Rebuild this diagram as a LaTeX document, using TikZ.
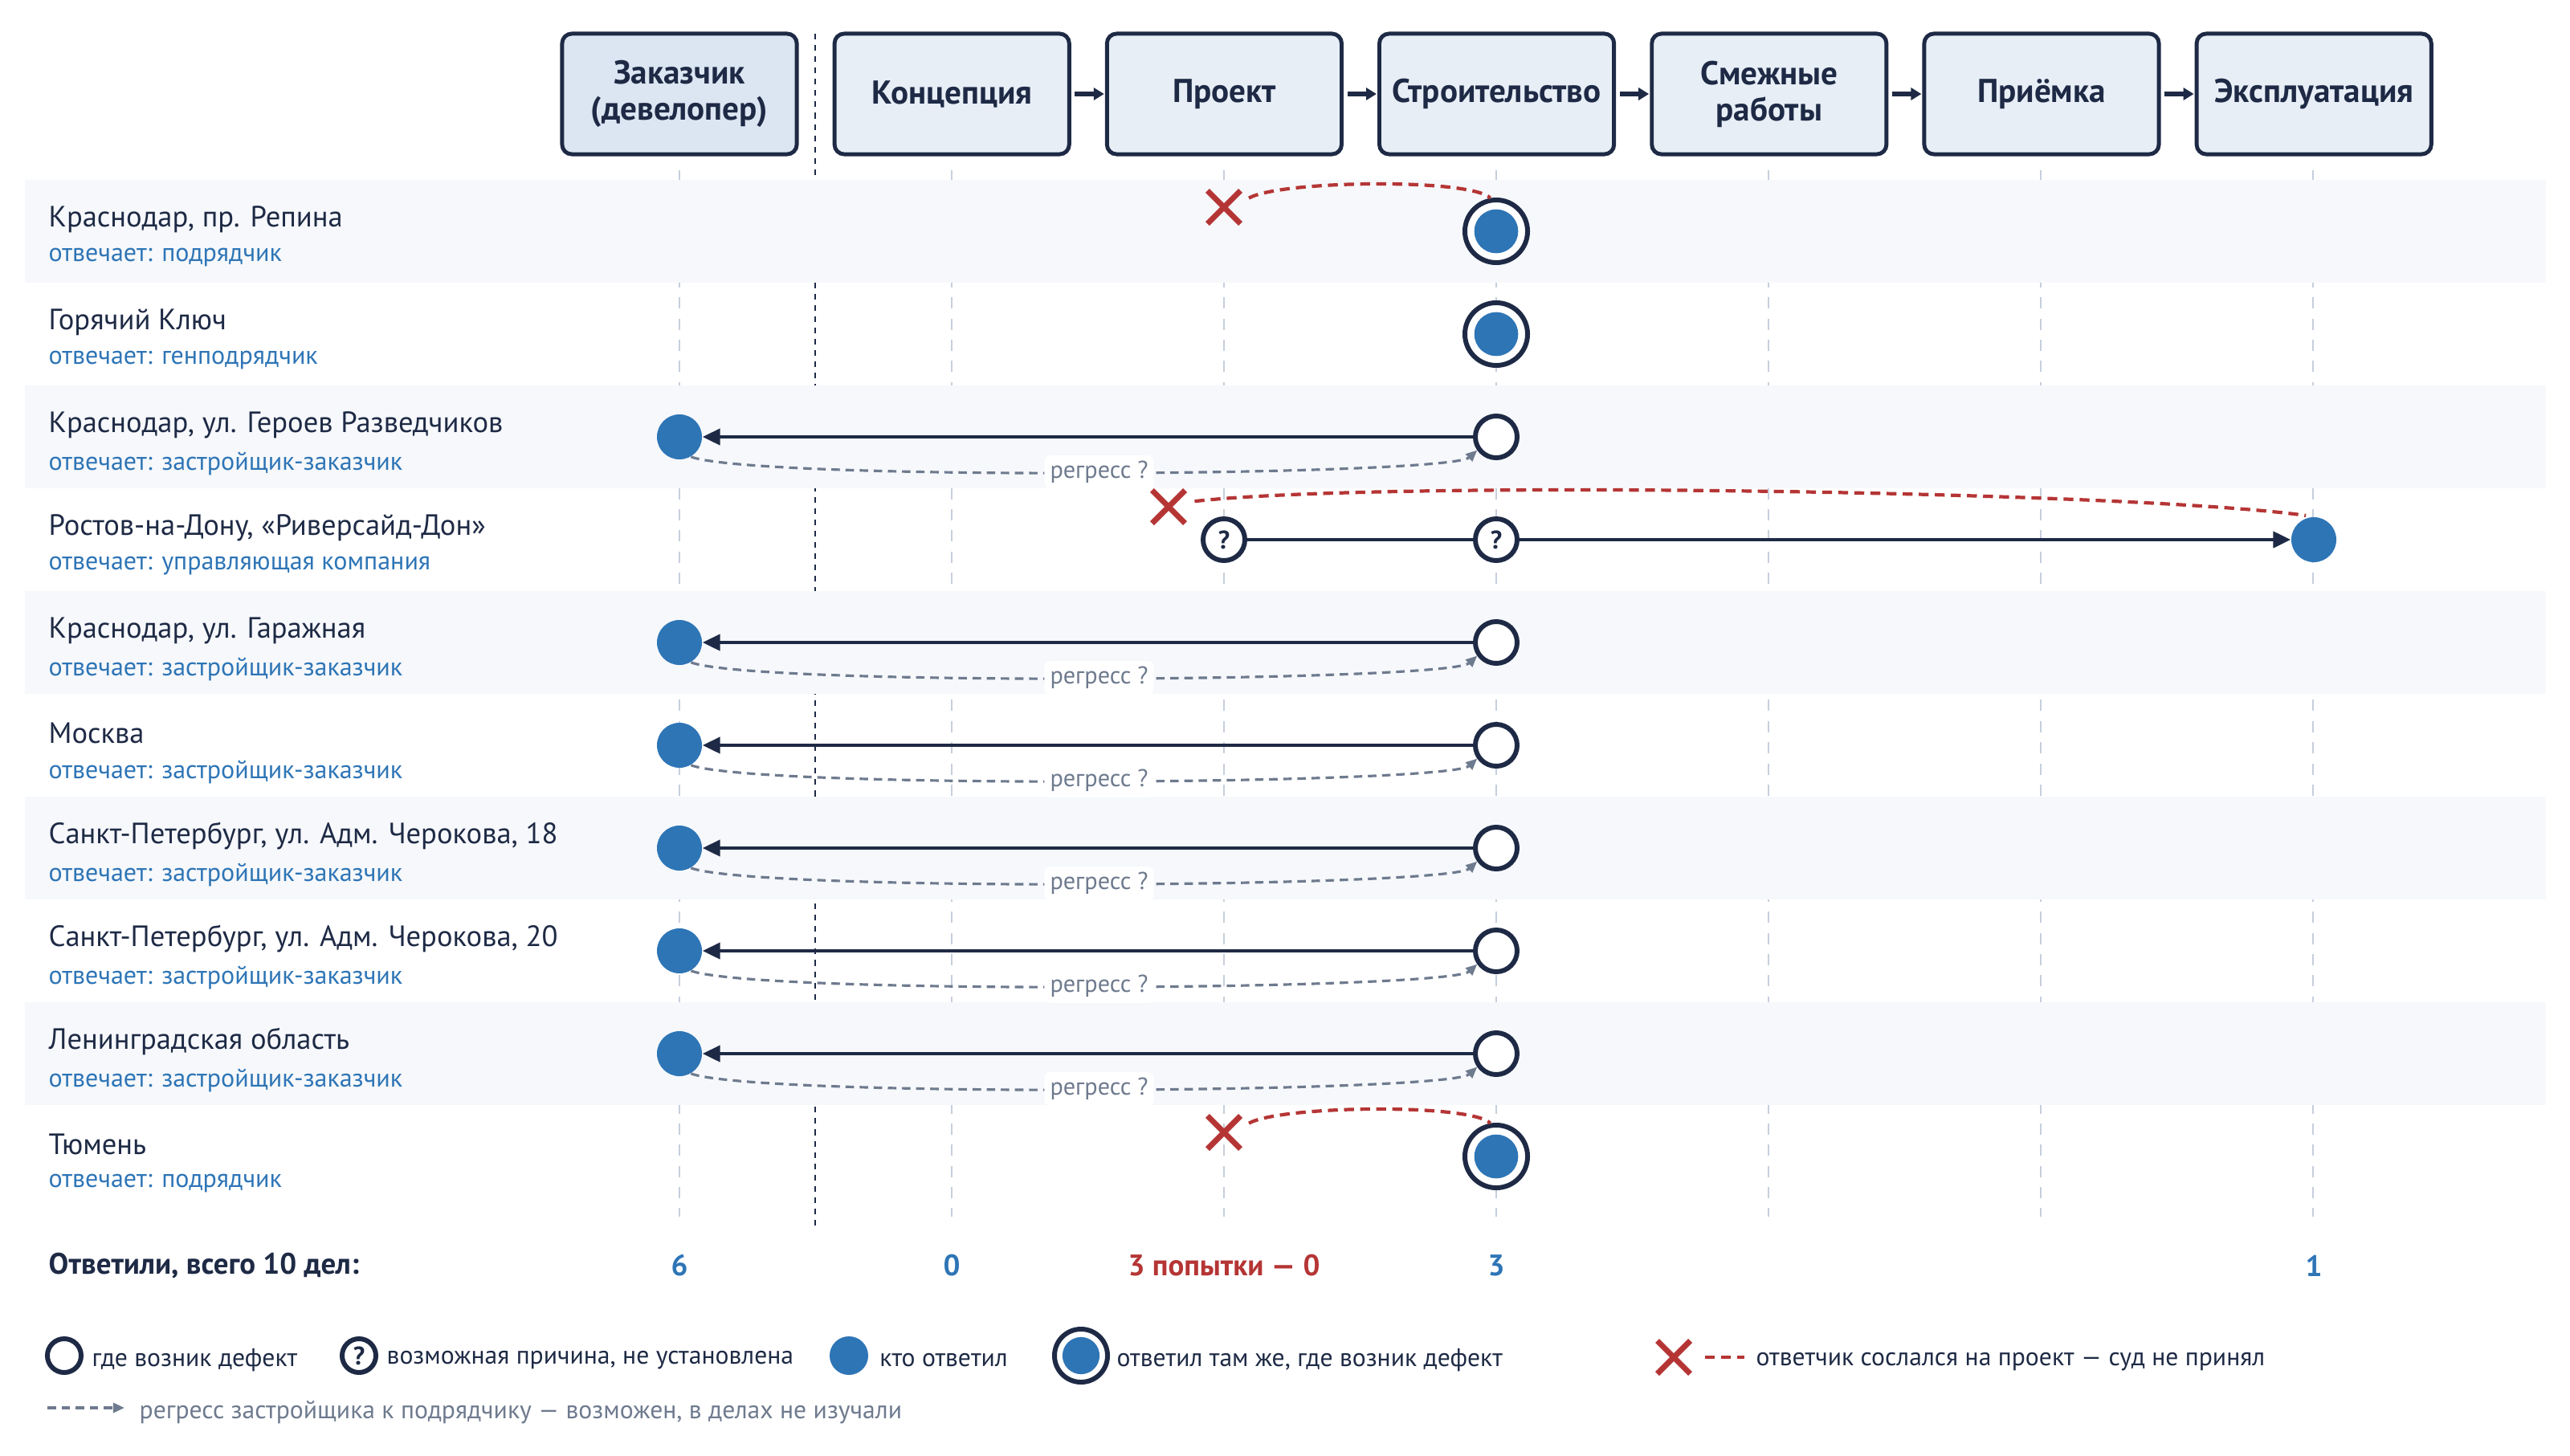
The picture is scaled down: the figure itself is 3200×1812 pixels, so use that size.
\documentclass[tikz,border=0pt]{standalone}
\usepackage{fontspec}
\setmainfont{PT Sans}
\usetikzlibrary{arrows.meta, positioning, shapes.misc}

\definecolor{navy}{HTML}{1E2A45}
\definecolor{ansblue}{HTML}{2E75B6}
\definecolor{refred}{HTML}{B53535}
\definecolor{greytext}{HTML}{6E7A8E}
\definecolor{bandfill}{HTML}{F6F8FB}
\definecolor{boxfill}{HTML}{E7EEF6}
\definecolor{clientfill}{HTML}{DCE6F2}
\definecolor{guidegrey}{HTML}{C6CFDC}

\newcommand{\stagefont}{\bfseries\fontsize{11.7}{12.8}\selectfont}
\newcommand{\casefont}{\fontsize{10.4}{12}\selectfont}
\newcommand{\respfont}{\fontsize{9.1}{11}\selectfont}
\newcommand{\legfont}{\fontsize{9}{11}\selectfont}
\newcommand{\regfont}{\fontsize{8.6}{10}\selectfont}
\newcommand{\totfont}{\bfseries\fontsize{10.5}{12}\selectfont}

\begin{document}
\begin{tikzpicture}[
        x=0.01cm, y=-0.01cm,
        stage/.style={draw=navy, line width=1.4pt, fill=boxfill, rounded corners=0.12cm, minimum width=2.92cm, minimum height=1.5cm, align=center, font=\stagefont, text=navy, inner sep=0, outer sep=0},
        flow/.style={-{Triangle[length=0.13cm, width=0.15cm]}, navy, line width=1.5pt, shorten <=2pt, shorten >=1pt},
        guide/.style={guidegrey, line width=0.6pt, dash pattern=on 4pt off 3.5pt},
        divider/.style={navy, line width=0.6pt, dash pattern=on 2pt off 2pt},
        casename/.style={anchor=west, font=\casefont, text=navy, inner sep=0},
        respondent/.style={anchor=west, font=\respfont, text=ansblue, inner sep=0},
        defect/.style={circle, draw=navy, line width=1.7pt, fill=white, minimum size=#1, inner sep=0},
        defect/.default=0.52cm,
        unknown/.style={defect=#1, font=\bfseries\fontsize{9}{10}\selectfont, text=navy},
        unknown/.default=0.52cm,
        answer/.style={circle, fill=ansblue, minimum size=#1, inner sep=0},
        answer/.default=0.56cm,
        same/.style={circle, draw=navy, line width=1.7pt, fill=white, minimum size=#1, inner sep=0, path picture={\fill[ansblue] (path picture bounding box.center) circle (0.35*#1);}},
        same/.default=0.78cm,
        xmark/.style={cross out, draw=refred, line width=2pt, minimum size=0.34cm, inner sep=0},
        blame/.style={-{Triangle[length=0.22cm, width=0.2cm]}, navy, line width=1.3pt},
        causeline/.style={navy, line width=1.3pt},
        regress/.style={-{Triangle[length=0.14cm, width=0.12cm]}, greytext, line width=0.9pt, dash pattern=on 3pt off 2pt},
        reglabel/.style={fill=white, rounded corners=2pt, font=\regfont, text=greytext, inner sep=2pt},
        refer/.style={refred, line width=1.2pt, dash pattern=on 3.5pt off 2.2pt, shorten <=0.12cm},
        total/.style={font=\totfont, inner sep=0},
        legendtext/.style={font=\legfont, text=navy, inner sep=0, yshift=-1.5pt}
    ]
    \useasboundingbox (0,0) rectangle (3200,1812);

    % column guides and client divider
    \draw[guide] (846,212) -- (846,1515);
    \draw[guide] (1185,212) -- (1185,1515);
    \draw[guide] (1524,212) -- (1524,1515);
    \draw[guide] (1863,212) -- (1863,1515);
    \draw[guide] (2202,212) -- (2202,1515);
    \draw[guide] (2541,212) -- (2541,1515);
    \draw[guide] (2880,212) -- (2880,1515);
    \draw[divider] (1015,42) -- (1015,1527);

    % shaded rows
    \fill[bandfill] (31,224) rectangle (3170,352);
    \fill[bandfill] (31,480) rectangle (3170,608);
    \fill[bandfill] (31,736) rectangle (3170,864);
    \fill[bandfill] (31,992) rectangle (3170,1120);
    \fill[bandfill] (31,1248) rectangle (3170,1376);

    % stages
    \node[stage, fill=clientfill] (client) at (846,117) {Заказчик\\(девелопер)};
    \node[stage, right=0.47cm of client] (concept) {Концепция};
    \node[stage, right=0.47cm of concept] (design) {Проект};
    \node[stage, right=0.47cm of design] (build) {Строительство};
    \node[stage, right=0.47cm of build] (adjacent) {Смежные\\работы};
    \node[stage, right=0.47cm of adjacent] (accept) {Приёмка};
    \node[stage, right=0.47cm of accept] (operate) {Эксплуатация};

    \draw[flow] (concept) -- (design);
    \draw[flow] (design) -- (build);
    \draw[flow] (build) -- (adjacent);
    \draw[flow] (adjacent) -- (accept);
    \draw[flow] (accept) -- (operate);

    % 1
    \node[casename] (c1) at (60,273) {Краснодар, пр. Репина};
    \node[respondent] (c1r) at (60,321) {отвечает: подрядчик};
    \node[same] (c1-b) at (1863,288) {};
    \node[xmark] (c1-x) at (1524,258) {};
    \draw[refer] (c1-x.15) .. controls +(50,-28) and +(-25,-25) .. (c1-b.100);

    % 2
    \node[casename] (c2) at (60,401) {Горячий Ключ};
    \node[respondent] (c2r) at (60,449) {отвечает: генподрядчик};
    \node[same] (c2-b) at (1863,416) {};

    % 3
    \node[casename] (c3) at (60,529) {Краснодар, ул. Героев Разведчиков};
    \node[respondent] (c3r) at (60,577) {отвечает: застройщик-заказчик};
    \node[answer] (c3-a) at (846,544) {};
    \node[defect] (c3-d) at (1863,544) {};
    \draw[blame] (c3-d) -- (c3-a);
    \draw[regress] (c3-a.-60) .. controls +(85,30) and +(-35,32) .. (c3-d.-145) node[reglabel, midway] (c3-l) {регресс ?};

    % 4
    \node[casename] (c4) at (60,657) {Ростов-на-Дону, «Риверсайд-Дон»};
    \node[respondent] (c4r) at (60,705) {отвечает: управляющая компания};
    \node[unknown] (c4-p) at (1524,672) {?};
    \node[unknown] (c4-b) at (1863,672) {?};
    \node[answer] (c4-e) at (2881,672) {};
    \node[xmark] (c4-x) at (1455,631) {};
    \draw[causeline] (c4-p) -- (c4-b);
    \draw[blame] (c4-b) -- (c4-e);
    \draw[refer, shorten >=0.1cm] (c4-x.15) .. controls +(250,-28) and +(-230,-32) .. (c4-e.north);

    % 5
    \node[casename] (c5) at (60,785) {Краснодар, ул. Гаражная};
    \node[respondent] (c5r) at (60,833) {отвечает: застройщик-заказчик};
    \node[answer] (c5-a) at (846,800) {};
    \node[defect] (c5-d) at (1863,800) {};
    \draw[blame] (c5-d) -- (c5-a);
    \draw[regress] (c5-a.-60) .. controls +(85,30) and +(-35,32) .. (c5-d.-145) node[reglabel, midway] (c5-l) {регресс ?};

    % 6
    \node[casename] (c6) at (60,913) {Москва};
    \node[respondent] (c6r) at (60,961) {отвечает: застройщик-заказчик};
    \node[answer] (c6-a) at (846,928) {};
    \node[defect] (c6-d) at (1863,928) {};
    \draw[blame] (c6-d) -- (c6-a);
    \draw[regress] (c6-a.-60) .. controls +(85,30) and +(-35,32) .. (c6-d.-145) node[reglabel, midway] (c6-l) {регресс ?};

    % 7
    \node[casename] (c7) at (60,1041) {Санкт-Петербург, ул. Адм. Черокова, 18};
    \node[respondent] (c7r) at (60,1089) {отвечает: застройщик-заказчик};
    \node[answer] (c7-a) at (846,1056) {};
    \node[defect] (c7-d) at (1863,1056) {};
    \draw[blame] (c7-d) -- (c7-a);
    \draw[regress] (c7-a.-60) .. controls +(85,30) and +(-35,32) .. (c7-d.-145) node[reglabel, midway] (c7-l) {регресс ?};

    % 8
    \node[casename] (c8) at (60,1169) {Санкт-Петербург, ул. Адм. Черокова, 20};
    \node[respondent] (c8r) at (60,1217) {отвечает: застройщик-заказчик};
    \node[answer] (c8-a) at (846,1184) {};
    \node[defect] (c8-d) at (1863,1184) {};
    \draw[blame] (c8-d) -- (c8-a);
    \draw[regress] (c8-a.-60) .. controls +(85,30) and +(-35,32) .. (c8-d.-145) node[reglabel, midway] (c8-l) {регресс ?};

    % 9
    \node[casename] (c9) at (60,1297) {Ленинградская область};
    \node[respondent] (c9r) at (60,1345) {отвечает: застройщик-заказчик};
    \node[answer] (c9-a) at (846,1312) {};
    \node[defect] (c9-d) at (1863,1312) {};
    \draw[blame] (c9-d) -- (c9-a);
    \draw[regress] (c9-a.-60) .. controls +(85,30) and +(-35,32) .. (c9-d.-145) node[reglabel, midway] (c9-l) {регресс ?};

    % 10
    \node[casename] (c10) at (60,1425) {Тюмень};
    \node[respondent] (c10r) at (60,1473) {отвечает: подрядчик};
    \node[same] (c10-b) at (1863,1440) {};
    \node[xmark] (c10-x) at (1524,1410) {};
    \draw[refer] (c10-x.15) .. controls +(50,-28) and +(-25,-25) .. (c10-b.100);

    % totals
    \node[total, anchor=west, text=navy] (tot) at (60,1576) {Ответили, всего 10 дел:};
    \node[total, text=ansblue] (tot-client) at (846,1576) {6};
    \node[total, text=ansblue] (tot-concept) at (1185,1576) {0};
    \node[total, text=refred] (tot-design) at (1524,1576) {3 попытки — 0};
    \node[total, text=ansblue] (tot-build) at (1863,1576) {3};
    \node[total, text=ansblue] (tot-operate) at (2881,1576) {1};

    % legend
    \node[defect=0.42cm] (lg-d) at (80,1688) {};
    \node[legendtext, right=0.1cm of lg-d] (lg-dt) {где возник дефект};
    \node[unknown=0.42cm] (lg-u) at (447,1688) {?};
    \node[legendtext, right=0.1cm of lg-u] (lg-ut) {возможная причина, не установлена};
    \node[answer=0.48cm] (lg-a) at (1057,1688) {};
    \node[legendtext, right=0.13cm of lg-a] (lg-at) {кто ответил};
    \node[same=0.66cm] (lg-s) at (1346,1688) {};
    \node[legendtext, right=0.08cm of lg-s] (lg-st) {ответил там же, где возник дефект};
    \node[xmark] (lg-x) at (2084,1690) {};
    \coordinate (lg-x1) at (2123,1690);
    \coordinate (lg-x2) at (2172,1690);
    \draw[refer, shorten <=0pt] (lg-x1) -- (lg-x2);
    \node[legendtext, right=0.14cm of lg-x2] (lg-xt) {ответчик сослался на проект — суд не принял};
    \coordinate (lg-r1) at (59,1753);
    \coordinate (lg-r2) at (155,1753);
    \draw[regress] (lg-r1) -- (lg-r2);
    \node[legendtext, text=greytext, right=0.18cm of lg-r2] (lg-rt) {регресс застройщика к подрядчику — возможен, в делах не изучали};
\end{tikzpicture}
\end{document}
